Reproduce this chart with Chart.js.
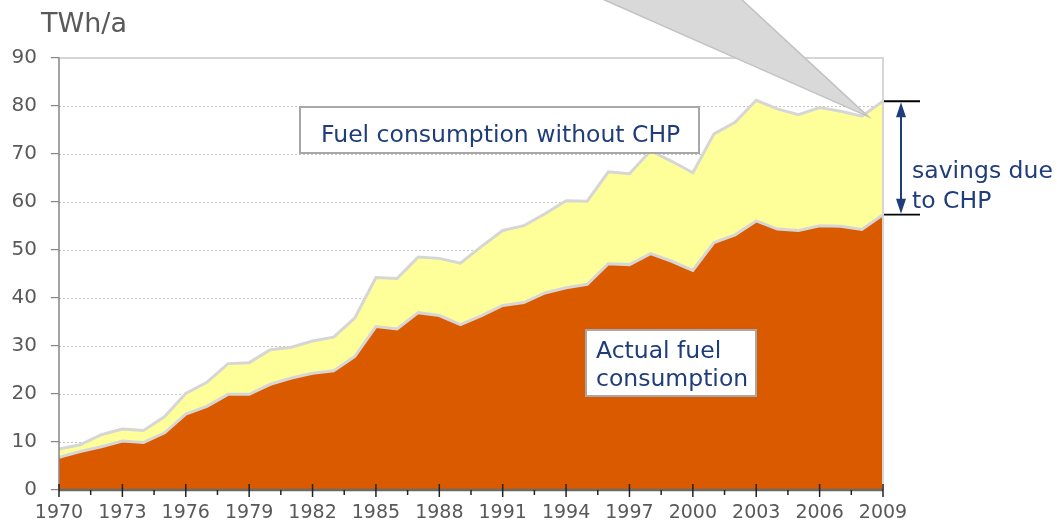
<!DOCTYPE html>
<html>
<head>
<meta charset="utf-8">
<script src="https://cdn.jsdelivr.net/npm/chart.js@4/dist/chart.umd.min.js"></script>
<style>
  html, body { margin: 0; padding: 0; background: #ffffff; }
  #wrap { width: 1057px; height: 525px; }
</style>
</head>
<body>
<div id="wrap"><canvas id="c" width="1057" height="525"></canvas></div>
<script>
// ---- data ----
const years = [1970, 1971, 1972, 1973, 1974, 1975, 1976, 1977, 1978, 1979,
               1980, 1981, 1982, 1983, 1984, 1985, 1986, 1987, 1988, 1989,
               1990, 1991, 1992, 1993, 1994, 1995, 1996, 1997, 1998, 1999,
               2000, 2001, 2002, 2003, 2004, 2005, 2006, 2007, 2008, 2009];
const actualFuel = [6.8, 8.0, 9.0, 10.2, 9.9, 11.9, 15.8, 17.4, 19.9, 19.9,
                    22.0, 23.3, 24.3, 24.8, 27.8, 34.0, 33.5, 36.9, 36.3, 34.4,
                    36.3, 38.4, 39.0, 41.0, 42.1, 42.8, 47.1, 46.9, 49.2, 47.6,
                    45.7, 51.5, 53.1, 56.0, 54.3, 54.0, 55.0, 54.9, 54.2, 57.3];
const fuelWithoutCHP = [8.5, 9.4, 11.5, 12.7, 12.4, 15.3, 20.1, 22.4, 26.3, 26.5,
                        29.2, 29.7, 31.0, 31.8, 35.8, 44.2, 44.0, 48.5, 48.2, 47.2,
                        50.7, 54.0, 55.0, 57.5, 60.2, 60.1, 66.2, 65.8, 70.6, 68.4,
                        66.0, 74.1, 76.5, 81.1, 79.3, 78.1, 79.6, 78.8, 77.8, 80.9];
const yTicks = [0, 10, 20, 30, 40, 50, 60, 70, 80, 90];
const xLabelYears = [1970, 1973, 1976, 1979, 1982, 1985, 1988, 1991, 1994, 1997, 2000, 2003, 2006, 2009];
const unitLabel = 'TWh/a';
const labelWithout = 'Fuel consumption without CHP';
const labelActual = ['Actual fuel', 'consumption'];
const labelSavings = ['savings due', 'to CHP'];

const FONT = "'DejaVu Sans', Verdana, sans-serif";
const BLUE = '#1F3D7A';
const GREY_TXT = '#595959';

const toXY = (vals) => years.map((y, i) => ({ x: y, y: vals[i] }));

const decor = {
  id: 'decor',
  beforeDatasetsDraw(chart) {
    const { ctx, chartArea: a, scales: { y } } = chart;
    ctx.save();
    ctx.strokeStyle = '#C4C4C4';
    ctx.lineWidth = 1;
    ctx.setLineDash([2, 2]);
    yTicks.forEach(v => {
      if (v === 0) return;
      const py = Math.round(y.getPixelForValue(v)) + 0.5;
      ctx.beginPath(); ctx.moveTo(a.left, py); ctx.lineTo(a.right, py); ctx.stroke();
    });
    ctx.restore();
  },
  afterDraw(chart) {
    const { ctx, chartArea: a, scales: { x, y } } = chart;
    ctx.save();
    // frame top/right
    ctx.strokeStyle = '#D6D6D6';
    ctx.lineWidth = 2;
    ctx.beginPath();
    ctx.moveTo(a.left, a.top + 0.5); ctx.lineTo(a.right, a.top + 0.5); ctx.lineTo(a.right, a.bottom);
    ctx.stroke();
    // y axis line
    ctx.strokeStyle = '#868686';
    ctx.lineWidth = 1.5;
    ctx.beginPath(); ctx.moveTo(a.left, a.top); ctx.lineTo(a.left, a.bottom); ctx.stroke();
    // x axis line
    ctx.strokeStyle = '#6A6A6A';
    ctx.lineWidth = 2.5;
    ctx.beginPath(); ctx.moveTo(a.left, a.bottom); ctx.lineTo(a.right, a.bottom); ctx.stroke();
    // x tick marks: major at labelled years, minor half-way
    ctx.strokeStyle = '#222222';
    ctx.lineWidth = 1.5;
    for (let k = 0; k < xLabelYears.length; k++) {
      const px = x.getPixelForValue(xLabelYears[k]);
      ctx.beginPath(); ctx.moveTo(px, a.bottom - 6); ctx.lineTo(px, a.bottom + 7); ctx.stroke();
      if (k < xLabelYears.length - 1) {
        const pm = (px + x.getPixelForValue(xLabelYears[k + 1])) / 2;
        ctx.beginPath(); ctx.moveTo(pm, a.bottom); ctx.lineTo(pm, a.bottom + 5); ctx.stroke();
      }
    }
    // unit label
    ctx.fillStyle = GREY_TXT;
    ctx.font = '27px ' + FONT;
    ctx.textBaseline = 'alphabetic';
    ctx.textAlign = 'left';
    ctx.fillText(unitLabel, 41, 32);

    // callout wedge pointing to 2008
    const tipX = x.getPixelForValue(2008.3);
    const tipY = y.getPixelForValue(77.7);
    ctx.fillStyle = '#D9D9D9';
    ctx.strokeStyle = '#C2C2C2';
    ctx.lineWidth = 1.5;
    ctx.beginPath();
    ctx.moveTo(600, -2); ctx.lineTo(740, -2); ctx.lineTo(tipX, tipY); ctx.closePath();
    ctx.fill(); ctx.stroke();

    // boxes
    const box = (x0, y0, w, h) => {
      ctx.fillStyle = '#FFFFFF';
      ctx.fillRect(x0, y0, w, h);
      ctx.strokeStyle = '#A8A8A8';
      ctx.lineWidth = 2;
      ctx.strokeRect(x0, y0, w, h);
    };
    box(300, 107, 399, 46);
    ctx.fillStyle = BLUE;
    ctx.font = '23.5px ' + FONT;
    ctx.fillText(labelWithout, 321, 141.5);

    box(586, 330, 170, 66);
    ctx.fillStyle = BLUE;
    ctx.fillText(labelActual[0], 596, 357.5);
    ctx.fillText(labelActual[1], 596, 385.5);

    // savings bracket at 2009
    const xr = x.getPixelForValue(2009);
    const yTop = y.getPixelForValue(fuelWithoutCHP[fuelWithoutCHP.length - 1]);
    const yBot = y.getPixelForValue(actualFuel[actualFuel.length - 1]);
    ctx.strokeStyle = '#000000';
    ctx.lineWidth = 1.8;
    ctx.beginPath();
    ctx.moveTo(xr + 1, yTop); ctx.lineTo(xr + 37, yTop);
    ctx.moveTo(xr + 1, yBot); ctx.lineTo(xr + 37, yBot);
    ctx.stroke();
    const ax = xr + 18;
    ctx.strokeStyle = BLUE; ctx.fillStyle = BLUE;
    ctx.lineWidth = 2;
    ctx.beginPath(); ctx.moveTo(ax, yTop + 10); ctx.lineTo(ax, yBot - 10); ctx.stroke();
    ctx.beginPath(); ctx.moveTo(ax, yTop + 1); ctx.lineTo(ax - 5, yTop + 16); ctx.lineTo(ax + 5, yTop + 16); ctx.closePath(); ctx.fill();
    ctx.beginPath(); ctx.moveTo(ax, yBot - 1); ctx.lineTo(ax - 5, yBot - 16); ctx.lineTo(ax + 5, yBot - 16); ctx.closePath(); ctx.fill();
    ctx.font = '23.5px ' + FONT;
    ctx.fillText(labelSavings[0], xr + 29, 178);
    ctx.fillText(labelSavings[1], xr + 29, 208);
    ctx.restore();
  }
};

new Chart(document.getElementById('c'), {
  type: 'line',
  data: {
    datasets: [
      {
        label: 'Actual fuel consumption',
        data: toXY(actualFuel),
        backgroundColor: '#DA5A00',
        borderColor: '#D6D6D6',
        borderWidth: 3,
        fill: 'origin',
        pointRadius: 0,
        tension: 0
      },
      {
        label: 'Fuel consumption without CHP',
        data: toXY(fuelWithoutCHP),
        backgroundColor: '#FFFF99',
        borderColor: '#D6D6D6',
        borderWidth: 3,
        fill: '-1',
        pointRadius: 0,
        tension: 0
      }
    ]
  },
  options: {
    responsive: false,
    animation: false,
    devicePixelRatio: 1,
    layout: { padding: { top: 57.5, right: 174, left: 0, bottom: 0 } },
    plugins: { legend: { display: false }, tooltip: { enabled: false } },
    scales: {
      x: {
        type: 'linear',
        min: 1970, max: 2009,
        afterFit: (s) => { s.height = 35; },
        border: { display: false },
        grid: { display: false, drawTicks: false },
        ticks: {
          stepSize: 3,
          autoSkip: false,
          maxRotation: 0,
          padding: 12,
          color: GREY_TXT,
          font: { family: FONT, size: 19 },
          callback: (v) => xLabelYears.includes(v) ? String(v) : ''
        }
      },
      y: {
        min: 0, max: 90,
        afterFit: (s) => { s.width = 59; },
        border: { display: false },
        grid: { drawOnChartArea: false, drawTicks: true, tickLength: 8, color: '#868686', lineWidth: 1.2 },
        ticks: {
          stepSize: 10,
          padding: 14,
          color: GREY_TXT,
          font: { family: FONT, size: 20 },
          callback: (v) => yTicks.includes(v) ? String(v) : ''
        }
      }
    }
  },
  plugins: [decor]
});
</script>
</body>
</html>
